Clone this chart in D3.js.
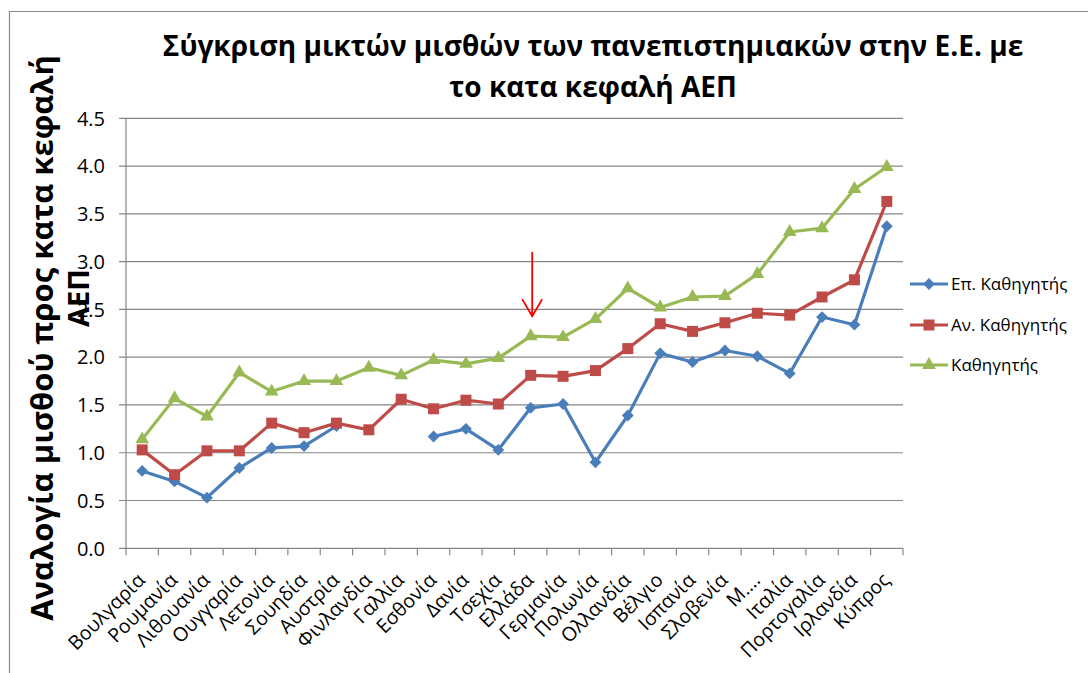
<!DOCTYPE html>
<html>
<head>
<meta charset="utf-8">
<script src="https://d3js.org/d3.v7.min.js"></script>
<style>
  body { margin:0; background:#fff; }
  text { font-family:"Open Sans","Noto Sans",sans-serif; fill:#000; }
</style>
</head>
<body>
<svg id="chart" width="1088" height="673"></svg>
<script>
    // data
    var countries = ["Βουλγαρία","Ρουμανία","Λιθουανία","Ουγγαρία","Λετονία","Σουηδία",
        "Αυστρία","Φινλανδία","Γαλλία","Εσθονία","Δανία","Τσεχία","Ελλάδα","Γερμανία",
        "Πολωνία","Ολλανδία","Βέλγιο","Ισπανία","Σλοβενία","Μ….","Ιταλία","Πορτογαλία",
        "Ιρλανδία","Κύπρος"];
    var asstProf = [0.81,0.70,0.53,0.84,1.05,1.07,1.28,null,null,1.17,1.25,1.03,1.47,1.51,
        0.90,1.39,2.04,1.95,2.07,2.01,1.83,2.42,2.34,3.37];
    var assocProf = [1.03,0.77,1.02,1.02,1.31,1.21,1.31,1.24,1.56,1.46,1.55,1.51,1.81,1.80,
        1.86,2.09,2.35,2.27,2.36,2.46,2.44,2.63,2.81,3.63];
    var fullProf = [1.14,1.57,1.38,1.84,1.64,1.75,1.75,1.89,1.81,1.97,1.93,1.99,2.22,2.21,
        2.40,2.72,2.52,2.63,2.64,2.87,3.31,3.35,3.76,3.99];
    var seriesNames = ["Επ. Καθηγητής","Αν. Καθηγητής","Καθηγητής"];
    var seriesColors = ["#4A7EBB","#BE4B48","#98B954"];
    var yTicks = [0,0.5,1,1.5,2,2.5,3,3.5,4,4.5];
    var highlight = "Ελλάδα";
    var arrowTop = 3.1, arrowTip = 2.43;

    //************************************************************
    // Layout
    //************************************************************
    var plot = { left:126, right:903, top:118.3, bottom:548.3 };
    var svg = d3.select("#chart");

    // outer chart border (only top and left visible)
    svg.append("path")
        .attr("d","M9.5,673 L9.5,11.5 L1088,11.5")
        .attr("fill","none")
        .attr("stroke","#8a8a8a")
        .attr("stroke-width",1.2);

    var x = d3.scaleBand().domain(countries).range([plot.left, plot.right]);
    var y = d3.scaleLinear().domain([0,4.5]).range([plot.bottom, plot.top]);

    // gridlines
    svg.append("g").selectAll("line")
        .data(yTicks).enter().append("line")
        .attr("x1", plot.left - 7).attr("x2", plot.right)
        .attr("y1", d => y(d)).attr("y2", d => y(d))
        .attr("stroke","#868686").attr("stroke-width",1.2);

    // y axis line
    svg.append("line")
        .attr("x1",plot.left).attr("x2",plot.left)
        .attr("y1",plot.top).attr("y2",plot.bottom)
        .attr("stroke","#868686").attr("stroke-width",1.2);

    // y tick labels
    svg.append("g").selectAll("text")
        .data(yTicks).enter().append("text")
        .attr("x", plot.left - 21)
        .attr("y", d => y(d))
        .attr("dy","0.36em")
        .attr("text-anchor","end")
        .style("font-size","20px")
        .text(d => d.toFixed(1));

    // x ticks (between categories)
    var edges = countries.map(c => x(c)).concat([plot.right]);
    svg.append("g").selectAll("line")
        .data(edges).enter().append("line")
        .attr("x1", d => d).attr("x2", d => d)
        .attr("y1", plot.bottom).attr("y2", plot.bottom + 7)
        .attr("stroke","#868686").attr("stroke-width",1.2);

    // x labels rotated
    svg.append("g").selectAll("text")
        .data(countries).enter().append("text")
        .attr("transform", d => "translate(" + (x(d) + x.bandwidth()/2 + 4) + "," + (plot.bottom + 33) + ") rotate(-45)")
        .attr("text-anchor","end")
        .style("font-size","19.5px")
        .text(d => d);

    //************************************************************
    // Series
    //************************************************************
    var allSeries = [asstProf, assocProf, fullProf];
    var symbols = [
        d3.symbol().type(d3.symbolSquare).size(70),
        d3.symbol().type(d3.symbolSquare).size(121),
        d3.symbol().type(d3.symbolTriangle).size(82)
    ];
    var rotations = [45, 0, 0];

    var line = d3.line()
        .defined(d => d.v !== null)
        .x(d => x(d.c) + x.bandwidth()/2)
        .y(d => y(d.v));

    allSeries.forEach(function(vals, s) {
        var pts = vals.map((v,i) => ({ c: countries[i], v: v }));
        var g = svg.append("g");
        g.append("path")
            .datum(pts)
            .attr("d", line)
            .attr("fill","none")
            .attr("stroke", seriesColors[s])
            .attr("stroke-width",3.2)
            .attr("stroke-linejoin","round");
        g.selectAll("path.m")
            .data(pts.filter(p => p.v !== null)).enter().append("path")
            .attr("class","m")
            .attr("d", symbols[s])
            .attr("transform", p => "translate(" + (x(p.c) + x.bandwidth()/2) + "," + y(p.v) + ") rotate(" + rotations[s] + ")")
            .attr("fill", seriesColors[s]);
    });

    // red arrow pointing at Greece
    var ax = x(highlight) + x.bandwidth()/2 + 1.5;
    svg.append("path")
        .attr("d", "M" + ax + "," + y(arrowTop) + " L" + ax + "," + y(arrowTip)
            + " M" + (ax - 10) + "," + (y(arrowTip) - 17) + " L" + ax + "," + y(arrowTip)
            + " L" + (ax + 10) + "," + (y(arrowTip) - 17))
        .attr("fill","none")
        .attr("stroke","#ff0000")
        .attr("stroke-width",1.8);

    //************************************************************
    // Legend
    //************************************************************
    var legendY = [284, 325, 365];
    var legend = svg.append("g").selectAll("g")
        .data(seriesNames).enter().append("g")
        .attr("transform", (d,i) => "translate(910," + legendY[i] + ")");
    legend.append("line")
        .attr("x1",0).attr("x2",38)
        .attr("stroke", (d,i) => seriesColors[i])
        .attr("stroke-width",3.2);
    legend.append("path")
        .attr("d", (d,i) => symbols[i]())
        .attr("transform", (d,i) => "translate(19,0) rotate(" + rotations[i] + ")")
        .attr("fill", (d,i) => seriesColors[i]);
    legend.append("text")
        .attr("x",41)
        .attr("dy","0.36em")
        .style("font-size","17px")
        .text(d => d);

    //************************************************************
    // Titles
    //************************************************************
    var title = svg.append("text")
        .attr("x",593).attr("y",56)
        .attr("text-anchor","middle")
        .style("font-size","28px")
        .style("font-weight","bold");
    title.append("tspan").attr("x",593).text("Σύγκριση μικτών μισθών των πανεπιστημιακών στην Ε.Ε. με");
    title.append("tspan").attr("x",593).attr("dy",41).text("το κατα κεφαλή ΑΕΠ");

    svg.append("text")
        .attr("transform","translate(53,338) rotate(-90)")
        .attr("text-anchor","middle")
        .style("font-size","31px")
        .style("font-weight","bold")
        .text("Αναλογία μισθού προς  κατα κεφαλή");
    svg.append("text")
        .attr("transform","translate(89,298) rotate(-90)")
        .attr("text-anchor","middle")
        .style("font-size","29px")
        .style("font-weight","bold")
        .text("ΑΕΠ");
</script>
</body>
</html>
